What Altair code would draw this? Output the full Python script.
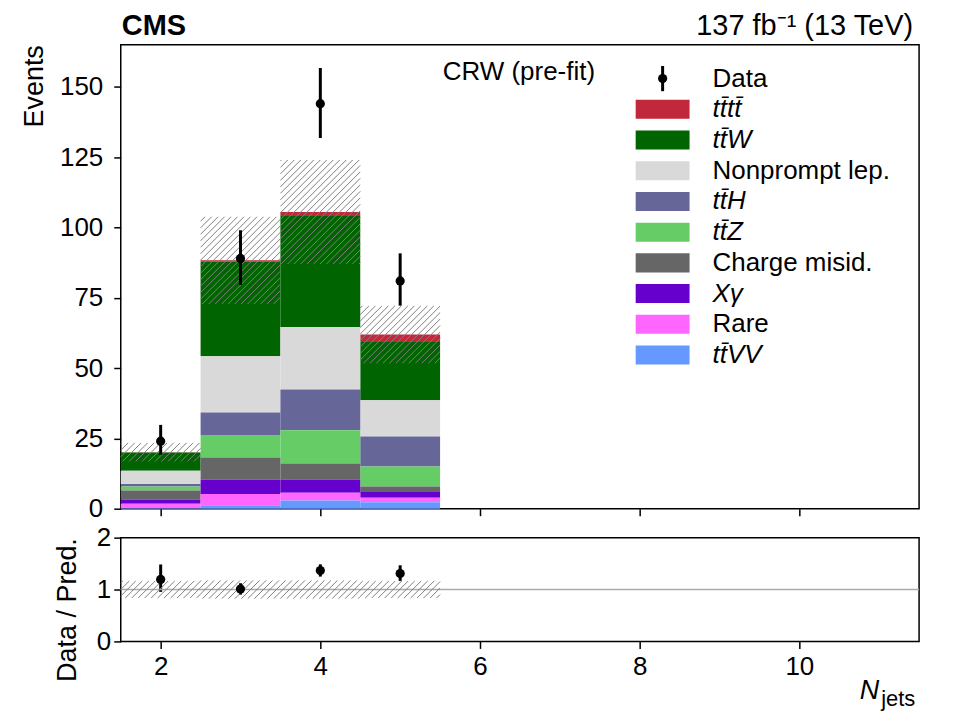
import altair as alt
import pandas as pd

# ---------------- yields per jet-multiplicity bin ----------------
njets = [2, 3, 4, 5]

# predictions, one list per process
tttt = [0.1, 0.5, 1.4, 2.6]
ttw = [6.5, 33.6, 39.5, 20.7]
nonprompt = [4.7, 20.0, 22.2, 12.9]
tth = [0.9, 8.0, 14.5, 10.7]
ttz = [1.4, 8.0, 11.8, 7.1]
charge_misid = [3.2, 7.9, 5.7, 2.0]
xgamma = [1.5, 5.1, 4.7, 2.0]
rare = [1.6, 4.0, 2.8, 1.6]
ttvv = [0.2, 1.2, 2.9, 2.3]

# total uncertainty of the prediction
pred_unc = [3.3, 15.5, 18.5, 10.2]

# observed events and their interval
data_obs = [24, 89, 144, 81]
data_lo = [19.2, 79.6, 131.8, 72.2]
data_hi = [29.8, 99.0, 156.7, 90.8]

# legend order (top to bottom); the stack is drawn in the reverse order
labels = ["tt\u0304tt\u0304", "tt\u0304W", "Nonprompt lep.", "tt\u0304H", "tt\u0304Z",
          "Charge misid.", "X\u03b3", "Rare", "tt\u0304VV"]
colors = ["#c1283c", "#006400", "#d9d9d9", "#666699", "#66cc66",
          "#666666", "#6600cc", "#ff66ff", "#6699ff"]
is_math = [True, True, False, True, True, False, True, False, True]
yields = [tttt, ttw, nonprompt, tth, ttz, charge_misid, xgamma, rare, ttvv]

FONT = "Liberation Sans"
W, H_MAIN, H_RATIO = 800, 465, 104
GAP = 29
PAD_L, PAD_T, PAD_R, PAD_B = 120, 43, 40, 79
X_DOM = [1.5, 11.5]
Y_MAIN = [0, 165]
Y_RATIO = [0, 2]
KX = W / (X_DOM[1] - X_DOM[0])
KY_MAIN = H_MAIN / (Y_MAIN[1] - Y_MAIN[0])
KY_RATIO = H_RATIO / (Y_RATIO[1] - Y_RATIO[0])
INT_LABEL = "toString(round(datum.value))"

# ---------------- tables ----------------
rows = []
n = len(labels)
for i, (lab, vals) in enumerate(zip(labels, yields)):
    for nj, v in zip(njets, vals):
        rows.append({"process": lab, "order": n - 1 - i, "nj": nj,
                     "xlo": nj - 0.5, "xhi": nj + 0.5, "value": v})
stack_df = pd.DataFrame(rows)

pred_total = stack_df.groupby("nj")["value"].sum().reindex(njets).to_numpy()
unc = pd.Series(pred_unc).to_numpy()

obs_df = pd.DataFrame({"nj": njets, "obs": data_obs, "lo": data_lo, "hi": data_hi})
obs_df["ratio"] = obs_df["obs"] / pred_total
obs_df["rlo"] = obs_df["lo"] / pred_total
obs_df["rhi"] = obs_df["hi"] / pred_total

band_df = pd.DataFrame({"xlo": [v - 0.5 for v in njets], "xhi": [v + 0.5 for v in njets],
                        "ylo": pred_total - unc, "yhi": pred_total + unc})
rel = unc / pred_total
ratio_band_df = pd.DataFrame({"xlo": band_df["xlo"], "xhi": band_df["xhi"],
                              "ylo": 1 - rel, "yhi": 1 + rel})

legend_df = pd.DataFrame({"label": labels, "row": list(range(1, n + 1)), "math": is_math})
one_df = pd.DataFrame({"v": [1.0]})

x_scale = alt.Scale(domain=X_DOM, nice=False, zero=False)
y_main = alt.Scale(domain=Y_MAIN, nice=False)
y_ratio = alt.Scale(domain=Y_RATIO, nice=False)
color_scale = alt.Scale(domain=labels, range=colors)


def hatch(df, yscale, ky, step=6.5, color="#808080"):
    """Diagonal '///' hatching inside each [xlo,xhi] x [ylo,yhi] box."""
    x0 = X_DOM[0]
    return (
        alt.Chart(df)
        .transform_calculate(X0=f"(datum.xlo - {x0}) * {KX}")
        .transform_calculate(X1=f"(datum.xhi - {x0}) * {KX}")
        .transform_calculate(Y0=f"datum.ylo * {ky}")
        .transform_calculate(Y1=f"datum.yhi * {ky}")
        .transform_calculate(
            ks=f"sequence(floor((datum.X0 - datum.Y1) / {step}), ceil((datum.X1 - datum.Y0) / {step}) + 1)")
        .transform_flatten(["ks"])
        .transform_calculate(c=f"datum.ks * {step}")
        .transform_calculate(xa="max(datum.X0, datum.Y0 + datum.c)")
        .transform_calculate(xb="min(datum.X1, datum.Y1 + datum.c)")
        .transform_filter("datum.xa < datum.xb")
        .transform_calculate(hx1=f"{x0} + datum.xa / {KX}")
        .transform_calculate(hy1=f"(datum.xa - datum.c) / {ky}")
        .transform_calculate(hx2=f"{x0} + datum.xb / {KX}")
        .transform_calculate(hy2=f"(datum.xb - datum.c) / {ky}")
        .mark_rule(color=color, strokeWidth=1)
        .encode(x=alt.X("hx1:Q", scale=x_scale), x2="hx2:Q",
                y=alt.Y("hy1:Q", scale=yscale), y2="hy2:Q")
    )


def page_edge(y_px):
    """Invisible horizontal rule spanning the full page width, fixing the page bounds."""
    return alt.Chart(one_df).mark_rule(opacity=0, strokeWidth=0).encode(
        x=alt.value(-PAD_L), x2=alt.value(W + PAD_R), y=alt.value(y_px), y2=alt.value(y_px))


# ---------------- main panel ----------------
bars = (
    alt.Chart(stack_df)
    .transform_stack(stack="value", groupby=["nj"], as_=["y0", "y1"],
                     sort=[alt.SortField("order", order="ascending")])
    .mark_rect()
    .encode(
        x=alt.X("xlo:Q", scale=x_scale,
                axis=alt.Axis(values=[2, 4, 6, 8, 10], labels=False, title=None)),
        x2="xhi:Q",
        y=alt.Y("y0:Q", scale=y_main,
                axis=alt.Axis(values=[0, 25, 50, 75, 100, 125, 150], title="Events",
                              labelExpr=INT_LABEL,
                              titleX=-78, titleY=0, titleAlign="right", titleAngle=270,
                              titleBaseline="alphabetic", labelPadding=11,
                              labelOverlap=False, labelFlush=False)),
        y2="y1:Q",
        color=alt.Color("process:N", scale=color_scale, legend=None),
    )
)

main_hatch = hatch(band_df, y_main, KY_MAIN)

obs_err = alt.Chart(obs_df).mark_rule(color="black", strokeWidth=3).encode(
    x=alt.X("nj:Q", scale=x_scale),
    y=alt.Y("lo:Q", scale=y_main), y2="hi:Q")
obs_pts = alt.Chart(obs_df).mark_circle(color="black", opacity=1, size=85).encode(
    x=alt.X("nj:Q", scale=x_scale),
    y=alt.Y("obs:Q", scale=y_main))

plot_layer = alt.layer(bars, main_hatch, obs_err, obs_pts)

# legend built from the same labels and colours
LEG_FS = 26
leg_scale = alt.Scale(domain=[0, 9], range=[34, 311])
leg_swatch = (
    alt.Chart(legend_df)
    .transform_calculate(r0="datum.row - 0.31", r1="datum.row + 0.31")
    .mark_rect()
    .encode(x=alt.value(516), x2=alt.value(570),
            y=alt.Y("r0:Q", scale=leg_scale, axis=None), y2="r1:Q",
            color=alt.Color("label:N", scale=color_scale, legend=None))
)
leg_text_math = (
    alt.Chart(legend_df).transform_filter("datum.math")
    .mark_text(align="left", baseline="middle", font=FONT, fontSize=LEG_FS, fontStyle="italic", color="black")
    .encode(x=alt.value(593), y=alt.Y("row:Q", scale=leg_scale, axis=None), text="label:N")
)
leg_text_plain = (
    alt.Chart(legend_df).transform_filter("!datum.math")
    .mark_text(align="left", baseline="middle", font=FONT, fontSize=LEG_FS, color="black")
    .encode(x=alt.value(593), y=alt.Y("row:Q", scale=leg_scale, axis=None), text="label:N")
)
leg_data_df = pd.DataFrame({"row": [0], "label": ["Data"]})
leg_data_err = (
    alt.Chart(leg_data_df)
    .transform_calculate(r0="datum.row - 0.41", r1="datum.row + 0.41")
    .mark_rule(color="black", strokeWidth=3)
    .encode(x=alt.value(543), y=alt.Y("r0:Q", scale=leg_scale, axis=None), y2="r1:Q")
)
leg_data_pt = alt.Chart(leg_data_df).mark_circle(color="black", opacity=1, size=85).encode(
    x=alt.value(543), y=alt.Y("row:Q", scale=leg_scale, axis=None))
leg_data_txt = alt.Chart(leg_data_df).mark_text(
    align="left", baseline="middle", font=FONT, fontSize=LEG_FS, color="black"
).encode(x=alt.value(593), y=alt.Y("row:Q", scale=leg_scale, axis=None), text="label:N")

legend_layer = alt.layer(leg_swatch, leg_text_math, leg_text_plain,
                         leg_data_err, leg_data_pt, leg_data_txt)

note_df = pd.DataFrame({"t": ["CRW (pre-fit)"]})
region_txt = alt.Chart(note_df).mark_text(
    align="center", baseline="middle", font=FONT, fontSize=26, color="black"
).encode(x=alt.value(399), y=alt.value(27), text="t:N")

head_df = pd.DataFrame({"cms": ["CMS"], "lumi": ["137 fb\u207b\u00b9 (13 TeV)"]})
cms_txt = alt.Chart(head_df).mark_text(
    align="left", baseline="alphabetic", font=FONT, fontSize=29, fontWeight="bold", color="black"
).encode(x=alt.value(1), y=alt.value(-10), text="cms:N")
lumi_txt = alt.Chart(head_df).mark_text(
    align="right", baseline="alphabetic", font=FONT, fontSize=29, color="black"
).encode(x=alt.value(794), y=alt.value(-10), text="lumi:N")

main = (
    alt.layer(plot_layer, legend_layer, region_txt, cms_txt, lumi_txt, page_edge(-PAD_T))
    .resolve_scale(y="independent")
    .properties(width=W, height=H_MAIN)
)

# ---------------- ratio panel ----------------
ratio_hatch = hatch(ratio_band_df, y_ratio, KY_RATIO)

ratio_err = alt.Chart(obs_df).mark_rule(color="black", strokeWidth=3).encode(
    x=alt.X("nj:Q", scale=x_scale,
            axis=alt.Axis(values=[2, 4, 6, 8, 10], title=None, labelExpr=INT_LABEL,
                          labelPadding=5, labelOverlap=False, labelFlush=False)),
    y=alt.Y("rlo:Q", scale=y_ratio,
            axis=alt.Axis(values=[0, 1, 2], title="Data / Pred.", labelExpr=INT_LABEL,
                          titleX=-45, titleY=0, titleAlign="right", titleAngle=270,
                          titleBaseline="alphabetic", labelPadding=3,
                          labelOverlap=False, labelFlush=False)),
    y2="rhi:Q")
ratio_pts = alt.Chart(obs_df).mark_circle(color="black", opacity=1, size=85).encode(
    x=alt.X("nj:Q", scale=x_scale),
    y=alt.Y("ratio:Q", scale=y_ratio))

unity = alt.Chart(one_df).mark_rule(color="#aaaaaa", strokeWidth=1.5).encode(
    y=alt.Y("v:Q", scale=y_ratio), x=alt.value(0), x2=alt.value(W))

xt_df = pd.DataFrame({"n": ["N"], "sub": ["jets"]})
xt_n = alt.Chart(xt_df).mark_text(
    align="right", baseline="alphabetic", font=FONT, fontSize=27, fontStyle="italic", color="black"
).encode(x=alt.value(760), y=alt.value(162), text="n:N")
xt_sub = alt.Chart(xt_df).mark_text(
    align="left", baseline="alphabetic", font=FONT, fontSize=22, color="black"
).encode(x=alt.value(762), y=alt.value(169), text="sub:N")

ratio = alt.layer(ratio_err, unity, ratio_hatch, ratio_pts, xt_n, xt_sub,
                  page_edge(H_RATIO + PAD_B)).properties(width=W, height=H_RATIO)

chart = (
    alt.vconcat(main, ratio, spacing=GAP, bounds="flush")
    .properties(autosize=alt.AutoSizeParams(type="pad"), padding=0, background="white")
    .configure_view(stroke="black", strokeWidth=1.5)
    .configure_axis(domain=False, grid=False, tickColor="black", tickWidth=1.5, tickSize=7,
                    labelFont=FONT, labelFontSize=26, labelColor="black",
                    titleFont=FONT, titleFontSize=27, titleFontWeight="normal", titleColor="black")
)

chart.save("out.html", embed_options={"renderer": "svg", "actions": False})
